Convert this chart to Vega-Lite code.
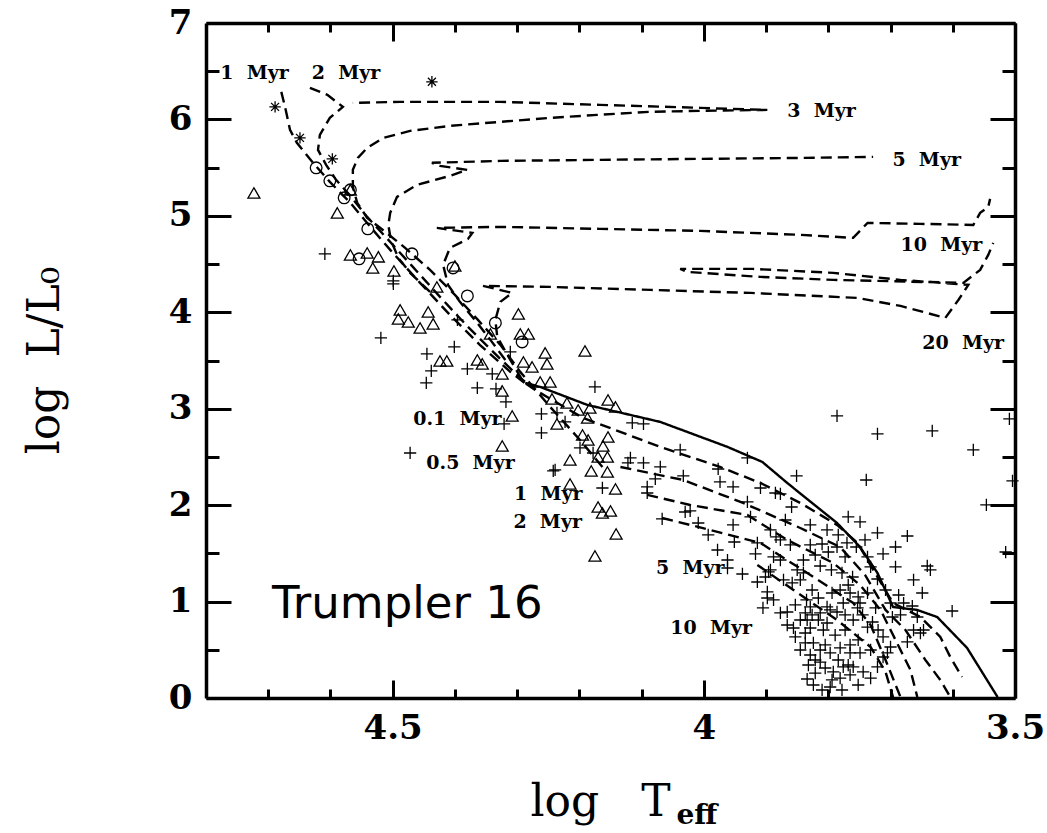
{
"$schema": "https://vega.github.io/schema/vega-lite/v6.json",
"width": 809, "height": 675,
"autosize": "none",
"padding": {"left": 206, "top": 23, "right": 32, "bottom": 135},
"background": "white",
"config": {"view": {"stroke": null},
  "axis": {"grid": false, "tickColor": "black", "tickWidth": 3, "domainColor": "black", "domainWidth": 3.5,
    "labelColor": "black", "labelFont": "DejaVu Serif", "labelFontWeight": "bold", "labelFontSize": 34,
    "labelFlush": false, "labelOverlap": false, "titleColor": "black", "titleFont": "DejaVu Serif", "titleFontWeight": "normal", "titleFontSize": 44}},
"datasets": {
"lines": [
{"s":"m1","o":1,"t":4.679,"l":6.286},{"s":"m1","o":2,"t":4.673,"l":6.130},{"s":"m1","o":3,"t":4.665,"l":5.892},{"s":"m1","o":4,"t":4.654,"l":5.757},{"s":"m1","o":5,"t":4.628,"l":5.550},{"s":"m1","o":6,"t":4.601,"l":5.352},{"s":"m1","o":7,"t":4.568,"l":5.135},{"s":"m1","o":8,"t":4.536,"l":4.886},{"s":"m1","o":9,"t":4.504,"l":4.647},{"s":"m1","o":10,"t":4.456,"l":4.305},{"s":"m1","o":11,"t":4.408,"l":3.973},{"s":"m1","o":12,"t":4.360,"l":3.662},{"s":"m1","o":13,"t":4.311,"l":3.382},{"s":"m1","o":14,"t":4.284,"l":3.247},
{"s":"m2","o":1,"t":4.633,"l":6.328},{"s":"m2","o":2,"t":4.605,"l":6.255},{"s":"m2","o":3,"t":4.580,"l":6.130},{"s":"m2","o":4,"t":4.601,"l":6.016},{"s":"m2","o":5,"t":4.617,"l":5.840},{"s":"m2","o":6,"t":4.620,"l":5.684},{"s":"m2","o":7,"t":4.607,"l":5.529},{"s":"m2","o":8,"t":4.591,"l":5.373},{"s":"m2","o":9,"t":4.568,"l":5.207},{"s":"m2","o":10,"t":4.541,"l":4.989},{"s":"m2","o":11,"t":4.507,"l":4.751},{"s":"m2","o":12,"t":4.469,"l":4.481},{"s":"m2","o":13,"t":4.424,"l":4.160},{"s":"m2","o":14,"t":4.379,"l":3.848},{"s":"m2","o":15,"t":4.332,"l":3.548},{"s":"m2","o":16,"t":4.295,"l":3.319},{"s":"m2","o":17,"t":4.279,"l":3.236},
{"s":"m3","o":1,"t":4.163,"l":2.396},{"s":"m3","o":2,"t":4.199,"l":2.676},{"s":"m3","o":3,"t":4.247,"l":3.019},{"s":"m3","o":4,"t":4.295,"l":3.382},{"s":"m3","o":5,"t":4.327,"l":3.662},{"s":"m3","o":6,"t":4.363,"l":3.921},{"s":"m3","o":7,"t":4.400,"l":4.180},{"s":"m3","o":8,"t":4.440,"l":4.440},{"s":"m3","o":9,"t":4.480,"l":4.668},{"s":"m3","o":10,"t":4.512,"l":4.834},{"s":"m3","o":11,"t":4.541,"l":4.979},{"s":"m3","o":12,"t":4.557,"l":5.135},{"s":"m3","o":13,"t":4.564,"l":5.301},{"s":"m3","o":14,"t":4.564,"l":5.477},{"s":"m3","o":15,"t":4.556,"l":5.601},{"s":"m3","o":16,"t":4.541,"l":5.705},{"s":"m3","o":17,"t":4.515,"l":5.809},{"s":"m3","o":18,"t":4.472,"l":5.881},{"s":"m3","o":19,"t":4.408,"l":5.933},{"s":"m3","o":20,"t":4.327,"l":5.975},{"s":"m3","o":21,"t":4.247,"l":6.016},{"s":"m3","o":22,"t":4.171,"l":6.047},{"s":"m3","o":23,"t":4.086,"l":6.079},{"s":"m3","o":24,"t":4.006,"l":6.089},{"s":"m3","o":25,"t":3.898,"l":6.099},{"s":"m3","o":26,"t":4.006,"l":6.120},{"s":"m3","o":27,"t":4.167,"l":6.151},{"s":"m3","o":28,"t":4.327,"l":6.182},{"s":"m3","o":29,"t":4.488,"l":6.182},{"s":"m3","o":30,"t":4.564,"l":6.172},
{"s":"m5","o":1,"t":4.440,"l":4.211},{"s":"m5","o":2,"t":4.472,"l":4.409},{"s":"m5","o":3,"t":4.491,"l":4.564},{"s":"m5","o":4,"t":4.503,"l":4.751},{"s":"m5","o":5,"t":4.507,"l":4.906},{"s":"m5","o":6,"t":4.504,"l":5.031},{"s":"m5","o":7,"t":4.493,"l":5.197},{"s":"m5","o":8,"t":4.461,"l":5.321},{"s":"m5","o":9,"t":4.408,"l":5.415},{"s":"m5","o":10,"t":4.380,"l":5.477},{"s":"m5","o":11,"t":4.424,"l":5.518},{"s":"m5","o":12,"t":4.437,"l":5.550},{"s":"m5","o":13,"t":4.327,"l":5.570},{"s":"m5","o":14,"t":4.167,"l":5.581},{"s":"m5","o":15,"t":4.006,"l":5.591},{"s":"m5","o":16,"t":3.845,"l":5.601},{"s":"m5","o":17,"t":3.728,"l":5.612},
{"s":"m10","o":1,"t":4.319,"l":3.506},{"s":"m10","o":2,"t":4.343,"l":3.714},{"s":"m10","o":3,"t":4.368,"l":3.921},{"s":"m10","o":4,"t":4.392,"l":4.108},{"s":"m10","o":5,"t":4.411,"l":4.284},{"s":"m10","o":6,"t":4.419,"l":4.492},{"s":"m10","o":7,"t":4.408,"l":4.668},{"s":"m10","o":8,"t":4.379,"l":4.761},{"s":"m10","o":9,"t":4.372,"l":4.823},{"s":"m10","o":10,"t":4.429,"l":4.875},{"s":"m10","o":11,"t":4.327,"l":4.886},{"s":"m10","o":12,"t":4.167,"l":4.865},{"s":"m10","o":13,"t":4.006,"l":4.844},{"s":"m10","o":14,"t":3.845,"l":4.803},{"s":"m10","o":15,"t":3.760,"l":4.772},{"s":"m10","o":16,"t":3.737,"l":4.927},{"s":"m10","o":17,"t":3.652,"l":4.917},{"s":"m10","o":18,"t":3.567,"l":4.906},{"s":"m10","o":19,"t":3.556,"l":5.031},{"s":"m10","o":20,"t":3.543,"l":5.093},{"s":"m10","o":21,"t":3.540,"l":5.176},
{"s":"m20","o":1,"t":4.271,"l":3.195},{"s":"m20","o":2,"t":4.290,"l":3.278},{"s":"m20","o":3,"t":4.311,"l":3.506},{"s":"m20","o":4,"t":4.332,"l":3.745},{"s":"m20","o":5,"t":4.335,"l":3.921},{"s":"m20","o":6,"t":4.327,"l":4.108},{"s":"m20","o":7,"t":4.308,"l":4.201},{"s":"m20","o":8,"t":4.355,"l":4.274},{"s":"m20","o":9,"t":4.247,"l":4.263},{"s":"m20","o":10,"t":4.086,"l":4.232},{"s":"m20","o":11,"t":3.925,"l":4.201},{"s":"m20","o":12,"t":3.753,"l":4.149},{"s":"m20","o":13,"t":3.684,"l":4.066},{"s":"m20","o":14,"t":3.612,"l":3.942},{"s":"m20","o":15,"t":3.591,"l":4.128},{"s":"m20","o":16,"t":3.575,"l":4.284},{"s":"m20","o":17,"t":3.684,"l":4.336},{"s":"m20","o":18,"t":3.792,"l":4.409},{"s":"m20","o":19,"t":3.921,"l":4.450},{"s":"m20","o":20,"t":4.038,"l":4.450},{"s":"m20","o":21,"t":4.027,"l":4.419},{"s":"m20","o":22,"t":3.909,"l":4.367},{"s":"m20","o":23,"t":3.792,"l":4.336},{"s":"m20","o":24,"t":3.583,"l":4.305},{"s":"m20","o":25,"t":3.556,"l":4.440},{"s":"m20","o":26,"t":3.543,"l":4.595},{"s":"m20","o":27,"t":3.535,"l":4.720},
{"s":"p01","o":1,"t":4.287,"l":3.267},{"s":"p01","o":2,"t":4.263,"l":3.226},{"s":"p01","o":3,"t":4.187,"l":3.039},{"s":"p01","o":4,"t":4.070,"l":2.863},{"s":"p01","o":5,"t":3.962,"l":2.604},{"s":"p01","o":6,"t":3.906,"l":2.448},{"s":"p01","o":7,"t":3.866,"l":2.230},{"s":"p01","o":8,"t":3.786,"l":1.815},{"s":"p01","o":9,"t":3.749,"l":1.566},{"s":"p01","o":10,"t":3.721,"l":1.297},{"s":"p01","o":11,"t":3.696,"l":0.944},{"s":"p01","o":12,"t":3.657,"l":0.913},{"s":"p01","o":13,"t":3.625,"l":0.840},{"s":"p01","o":14,"t":3.577,"l":0.519},{"s":"p01","o":15,"t":3.528,"l":0.010},
{"s":"p05","o":1,"t":4.263,"l":3.164},{"s":"p05","o":2,"t":4.194,"l":2.904},{"s":"p05","o":3,"t":4.070,"l":2.604},{"s":"p05","o":4,"t":3.974,"l":2.396},{"s":"p05","o":5,"t":3.909,"l":2.230},{"s":"p05","o":6,"t":3.845,"l":2.023},{"s":"p05","o":7,"t":3.786,"l":1.795},{"s":"p05","o":8,"t":3.753,"l":1.608},{"s":"p05","o":9,"t":3.721,"l":1.255},{"s":"p05","o":10,"t":3.696,"l":0.985},{"s":"p05","o":11,"t":3.652,"l":0.840},{"s":"p05","o":12,"t":3.620,"l":0.633},{"s":"p05","o":13,"t":3.604,"l":0.425},{"s":"p05","o":14,"t":3.585,"l":0.218},
{"s":"p1","o":1,"t":4.134,"l":2.396},{"s":"p1","o":2,"t":4.033,"l":2.261},{"s":"p1","o":3,"t":3.937,"l":2.023},{"s":"p1","o":4,"t":3.845,"l":1.763},{"s":"p1","o":5,"t":3.781,"l":1.566},{"s":"p1","o":6,"t":3.741,"l":1.276},{"s":"p1","o":7,"t":3.708,"l":0.913},{"s":"p1","o":8,"t":3.676,"l":0.705},{"s":"p1","o":9,"t":3.644,"l":0.394},{"s":"p1","o":10,"t":3.620,"l":0.187},{"s":"p1","o":11,"t":3.604,"l":0.010},
{"s":"p2","o":1,"t":4.091,"l":2.106},{"s":"p2","o":2,"t":4.022,"l":2.002},{"s":"p2","o":3,"t":3.930,"l":1.898},{"s":"p2","o":4,"t":3.866,"l":1.639},{"s":"p2","o":5,"t":3.792,"l":1.400},{"s":"p2","o":6,"t":3.749,"l":1.172},{"s":"p2","o":7,"t":3.716,"l":0.913},{"s":"p2","o":8,"t":3.692,"l":0.602},{"s":"p2","o":9,"t":3.668,"l":0.290},{"s":"p2","o":10,"t":3.657,"l":0.010},
{"s":"p5","o":1,"t":4.067,"l":1.867},{"s":"p5","o":2,"t":3.990,"l":1.743},{"s":"p5","o":3,"t":3.909,"l":1.608},{"s":"p5","o":4,"t":3.824,"l":1.255},{"s":"p5","o":5,"t":3.760,"l":0.985},{"s":"p5","o":6,"t":3.732,"l":0.757},{"s":"p5","o":7,"t":3.708,"l":0.394},{"s":"p5","o":8,"t":3.684,"l":0.010},
{"s":"p10","o":1,"t":3.914,"l":1.380},{"s":"p10","o":2,"t":3.856,"l":1.120},{"s":"p10","o":3,"t":3.786,"l":0.809},{"s":"p10","o":4,"t":3.732,"l":0.529},{"s":"p10","o":5,"t":3.708,"l":0.270},{"s":"p10","o":6,"t":3.696,"l":0.010}
],
"pts": [
{"k":"s","t":4.689,"l":6.130},{"k":"s","t":4.649,"l":5.809},{"k":"s","t":4.597,"l":5.591},{"k":"s","t":4.437,"l":6.390},
{"k":"c","t":4.623,"l":5.498},{"k":"c","t":4.601,"l":5.363},{"k":"c","t":4.578,"l":5.187},{"k":"c","t":4.568,"l":5.270},{"k":"c","t":4.540,"l":4.865},{"k":"c","t":4.554,"l":4.554},{"k":"c","t":4.469,"l":4.606},{"k":"c","t":4.403,"l":4.460},{"k":"c","t":4.380,"l":4.170},{"k":"c","t":4.335,"l":3.890},{"k":"c","t":4.292,"l":3.693},
{"k":"t","t":4.723,"l":5.238},{"k":"t","t":4.589,"l":5.031},{"k":"t","t":4.568,"l":5.270},{"k":"t","t":4.568,"l":4.595},{"k":"t","t":4.541,"l":4.616},{"k":"t","t":4.523,"l":4.575},{"k":"t","t":4.532,"l":4.460},{"k":"t","t":4.498,"l":4.429},{"k":"t","t":4.429,"l":4.263},{"k":"t","t":4.400,"l":4.481},{"k":"t","t":4.488,"l":4.025},{"k":"t","t":4.491,"l":3.931},{"k":"t","t":4.475,"l":3.900},{"k":"t","t":4.456,"l":3.838},{"k":"t","t":4.435,"l":3.880},{"k":"t","t":4.443,"l":4.004},{"k":"t","t":4.298,"l":3.983},{"k":"t","t":4.343,"l":3.776},{"k":"t","t":4.295,"l":3.776},{"k":"t","t":4.282,"l":3.776},{"k":"t","t":4.191,"l":3.599},{"k":"t","t":4.255,"l":3.579},{"k":"t","t":4.252,"l":3.465},{"k":"t","t":4.290,"l":3.485},{"k":"t","t":4.276,"l":3.434},{"k":"t","t":4.424,"l":3.496},{"k":"t","t":4.413,"l":3.496},{"k":"t","t":4.364,"l":3.506},{"k":"t","t":4.356,"l":3.465},{"k":"t","t":4.324,"l":3.361},{"k":"t","t":4.324,"l":3.185},{"k":"t","t":4.263,"l":3.278},{"k":"t","t":4.247,"l":3.278},{"k":"t","t":4.244,"l":3.102},{"k":"t","t":4.220,"l":3.060},{"k":"t","t":4.202,"l":2.987},{"k":"t","t":4.183,"l":3.008},{"k":"t","t":4.154,"l":3.091},{"k":"t","t":4.142,"l":3.019},{"k":"t","t":4.308,"l":2.925},{"k":"t","t":4.236,"l":2.842},{"k":"t","t":4.187,"l":2.904},{"k":"t","t":4.324,"l":2.614},{"k":"t","t":4.195,"l":2.728},{"k":"t","t":4.186,"l":2.676},{"k":"t","t":4.154,"l":2.707},{"k":"t","t":4.162,"l":2.614},{"k":"t","t":4.215,"l":2.469},{"k":"t","t":4.170,"l":2.500},{"k":"t","t":4.155,"l":2.500},{"k":"t","t":4.181,"l":2.355},{"k":"t","t":4.155,"l":2.344},{"k":"t","t":4.215,"l":2.220},{"k":"t","t":4.142,"l":2.168},{"k":"t","t":4.170,"l":1.981},{"k":"t","t":4.150,"l":1.940},{"k":"t","t":4.163,"l":1.919},{"k":"t","t":4.141,"l":1.701},{"k":"t","t":4.175,"l":1.473},
{"k":"p","t":4.609,"l":4.606},{"k":"p","t":4.499,"l":4.326},{"k":"p","t":4.499,"l":4.295},{"k":"p","t":4.519,"l":3.734},{"k":"p","t":4.445,"l":3.568},{"k":"p","t":4.438,"l":3.392},{"k":"p","t":4.446,"l":3.267},{"k":"p","t":4.401,"l":3.641},{"k":"p","t":4.380,"l":3.413},{"k":"p","t":4.364,"l":3.216},{"k":"p","t":4.340,"l":3.361},{"k":"p","t":4.334,"l":3.205},{"k":"p","t":4.318,"l":3.070},{"k":"p","t":4.321,"l":2.842},{"k":"p","t":4.311,"l":3.589},{"k":"p","t":4.261,"l":2.749},{"k":"p","t":4.261,"l":2.946},{"k":"p","t":4.472,"l":2.541},{"k":"p","t":4.242,"l":2.355},{"k":"p","t":4.175,"l":3.226},{"k":"p","t":4.236,"l":2.956},{"k":"p","t":4.223,"l":2.863},{"k":"p","t":4.199,"l":2.593},{"k":"p","t":4.178,"l":2.541},{"k":"p","t":4.163,"l":2.178},{"k":"p","t":4.115,"l":2.853},{"k":"p","t":4.097,"l":2.842},{"k":"p","t":4.122,"l":2.438},{"k":"p","t":4.097,"l":2.438},{"k":"p","t":4.070,"l":2.396},{"k":"p","t":4.078,"l":2.272},{"k":"p","t":4.033,"l":2.303},{"k":"p","t":4.091,"l":2.189},{"k":"p","t":4.091,"l":2.126},{"k":"p","t":4.038,"l":2.573},{"k":"p","t":3.977,"l":2.375},{"k":"p","t":3.974,"l":2.241},{"k":"p","t":4.022,"l":1.940},{"k":"p","t":4.067,"l":1.857},{"k":"p","t":4.009,"l":1.815},{"k":"p","t":3.993,"l":1.691},{"k":"p","t":3.978,"l":1.535},{"k":"p","t":3.962,"l":1.431},{"k":"p","t":3.786,"l":2.925},{"k":"p","t":3.721,"l":2.739},{"k":"p","t":3.633,"l":2.770},{"k":"p","t":3.567,"l":2.573},{"k":"p","t":3.509,"l":2.894},{"k":"p","t":3.739,"l":2.261},{"k":"p","t":3.546,"l":2.002},{"k":"p","t":3.515,"l":1.514},{"k":"p","t":3.504,"l":2.251},{"k":"p","t":3.930,"l":2.490},{"k":"p","t":3.953,"l":2.189},{"k":"p","t":3.909,"l":2.178},{"k":"p","t":3.877,"l":2.116},{"k":"p","t":3.851,"l":2.303},{"k":"p","t":3.859,"l":1.981},{"k":"p","t":3.930,"l":2.033},{"k":"p","t":4.030,"l":1.929},{"k":"p","t":3.953,"l":1.795},{"k":"p","t":3.951,"l":1.618},{"k":"p","t":3.925,"l":1.878},{"k":"p","t":3.914,"l":1.608},{"k":"p","t":3.917,"l":1.494},{"k":"p","t":3.962,"l":1.348},{"k":"p","t":3.938,"l":1.286},{"k":"p","t":3.884,"l":1.670},{"k":"p","t":3.768,"l":1.878},{"k":"p","t":3.749,"l":1.826},{"k":"p","t":3.721,"l":1.712},{"k":"p","t":3.673,"l":1.680},{"k":"p","t":3.692,"l":1.566},{"k":"p","t":3.712,"l":1.494},{"k":"p","t":3.692,"l":1.359},{"k":"p","t":3.641,"l":1.369},{"k":"p","t":3.636,"l":1.328},{"k":"p","t":3.663,"l":1.224},{"k":"p","t":3.649,"l":1.089},{"k":"p","t":3.601,"l":0.902},{"k":"p","t":3.885,"l":2.126},{"k":"p","t":3.737,"l":1.463},{"k":"p","t":3.732,"l":1.359},{"k":"p","t":3.755,"l":1.566},{"k":"p","t":3.773,"l":1.463},{"k":"p","t":3.786,"l":1.566},{"k":"p","t":3.802,"l":1.743},{"k":"p","t":3.829,"l":1.587},{"k":"p","t":3.810,"l":1.597},{"k":"p","t":3.770,"l":1.608},{"k":"p","t":3.813,"l":1.369},{"k":"p","t":3.795,"l":1.328},{"k":"p","t":3.778,"l":1.297},{"k":"p","t":3.761,"l":1.255},{"k":"p","t":3.721,"l":1.234},{"k":"p","t":3.850,"l":1.328},{"k":"p","t":3.840,"l":1.297},{"k":"p","t":3.877,"l":1.431},{"k":"p","t":3.888,"l":1.463},{"k":"p","t":3.893,"l":1.328},{"k":"p","t":3.901,"l":1.255},{"k":"p","t":3.872,"l":1.224},{"k":"p","t":3.845,"l":1.224},{"k":"p","t":3.858,"l":1.193},{"k":"p","t":3.826,"l":1.120},{"k":"p","t":3.794,"l":1.089},{"k":"p","t":3.765,"l":1.089},{"k":"p","t":3.752,"l":1.048},{"k":"p","t":3.737,"l":1.089},{"k":"p","t":3.776,"l":0.985},{"k":"p","t":3.749,"l":0.985},{"k":"p","t":3.724,"l":0.934},{"k":"p","t":3.700,"l":0.985},{"k":"p","t":3.679,"l":0.985},{"k":"p","t":3.665,"l":0.954},{"k":"p","t":3.684,"l":0.861},{"k":"p","t":3.697,"l":0.840},{"k":"p","t":3.657,"l":0.840},{"k":"p","t":3.652,"l":0.674},{"k":"p","t":3.673,"l":0.581},{"k":"p","t":3.712,"l":0.633},{"k":"p","t":3.737,"l":0.736},{"k":"p","t":3.729,"l":0.788},{"k":"p","t":3.760,"l":0.809},{"k":"p","t":3.753,"l":0.934},{"k":"p","t":3.773,"l":0.861},{"k":"p","t":3.786,"l":0.892},{"k":"p","t":3.802,"l":0.944},{"k":"p","t":3.813,"l":0.882},{"k":"p","t":3.829,"l":0.944},{"k":"p","t":3.837,"l":0.882},{"k":"p","t":3.834,"l":0.809},{"k":"p","t":3.816,"l":0.809},{"k":"p","t":3.802,"l":0.778},{"k":"p","t":3.829,"l":0.726},{"k":"p","t":3.837,"l":0.674},{"k":"p","t":3.866,"l":0.757},{"k":"p","t":3.877,"l":0.882},{"k":"p","t":3.888,"l":1.017},{"k":"p","t":3.898,"l":1.037},{"k":"p","t":3.905,"l":0.934},{"k":"p","t":3.898,"l":1.100},{"k":"p","t":3.853,"l":0.633},{"k":"p","t":3.824,"l":0.571},{"k":"p","t":3.805,"l":0.550},{"k":"p","t":3.797,"l":0.467},{"k":"p","t":3.829,"l":0.446},{"k":"p","t":3.832,"l":0.342},{"k":"p","t":3.821,"l":0.259},{"k":"p","t":3.834,"l":0.197},{"k":"p","t":3.824,"l":0.135},{"k":"p","t":3.794,"l":0.187},{"k":"p","t":3.781,"l":0.207},{"k":"p","t":3.776,"l":0.322},{"k":"p","t":3.768,"l":0.342},{"k":"p","t":3.784,"l":0.394},{"k":"p","t":3.765,"l":0.467},{"k":"p","t":3.749,"l":0.467},{"k":"p","t":3.732,"l":0.498},{"k":"p","t":3.705,"l":0.467},{"k":"p","t":3.721,"l":0.322},{"k":"p","t":3.744,"l":0.270},{"k":"p","t":3.732,"l":0.207},{"k":"p","t":3.813,"l":0.373},{"k":"p","t":3.792,"l":0.270},{"k":"p","t":3.914,"l":1.203},{"k":"p","t":3.896,"l":1.307},{"k":"p","t":3.760,"l":0.322},{"k":"p","t":3.712,"l":0.425},{"k":"p","t":3.700,"l":0.529},{"k":"p","t":3.663,"l":0.705},{"k":"p","t":3.647,"l":0.705},{"k":"p","t":3.797,"l":0.114},{"k":"p","t":4.118,"l":2.490},{"k":"p","t":4.239,"l":2.365},{"k":"p","t":4.396,"l":3.921},
{"k":"p","t":3.840,"l":1.431},{"k":"p","t":3.821,"l":1.483},{"k":"p","t":3.800,"l":1.514},{"k":"p","t":3.781,"l":1.120},{"k":"p","t":3.768,"l":1.172},{"k":"p","t":3.816,"l":1.037},{"k":"p","t":3.835,"l":1.017},{"k":"p","t":3.853,"l":0.965},{"k":"p","t":3.866,"l":0.892},{"k":"p","t":3.845,"l":0.809},{"k":"p","t":3.826,"l":0.861},{"k":"p","t":3.808,"l":0.705},{"k":"p","t":3.789,"l":0.653},{"k":"p","t":3.773,"l":0.705},{"k":"p","t":3.752,"l":0.602},{"k":"p","t":3.765,"l":0.550},{"k":"p","t":3.781,"l":0.519},{"k":"p","t":3.813,"l":0.498},{"k":"p","t":3.845,"l":0.498},{"k":"p","t":3.821,"l":0.394},{"k":"p","t":3.805,"l":0.311},{"k":"p","t":3.765,"l":0.239},{"k":"p","t":3.752,"l":0.135},{"k":"p","t":3.810,"l":0.083},{"k":"p","t":3.778,"l":0.083},{"k":"p","t":3.877,"l":1.639},{"k":"p","t":3.861,"l":1.587},{"k":"p","t":3.893,"l":1.743},{"k":"p","t":3.869,"l":1.846},{"k":"p","t":3.829,"l":1.795},{"k":"p","t":3.784,"l":1.691},{"k":"p","t":3.741,"l":1.639},{"k":"p","t":3.708,"l":1.120},{"k":"p","t":3.687,"l":1.068},{"k":"p","t":3.797,"l":0.913},{"k":"p","t":3.745,"l":0.861},{"k":"p","t":3.720,"l":0.705},{"k":"p","t":3.856,"l":0.726},{"k":"p","t":3.837,"l":0.571}
],
"labels": [
{"t":4.777,"l":6.483,"txt":"1\u00a0\u00a0Myr"},{"t":4.630,"l":6.483,"txt":"2\u00a0\u00a0Myr"},{"t":3.866,"l":6.089,"txt":"3\u00a0\u00a0Myr"},{"t":3.697,"l":5.581,"txt":"5\u00a0\u00a0Myr"},{"t":3.684,"l":4.699,"txt":"10\u00a0\u00a0Myr"},{"t":3.649,"l":3.682,"txt":"20\u00a0\u00a0Myr"},
{"t":4.467,"l":2.894,"txt":"0.1\u00a0\u00a0Myr"},{"t":4.446,"l":2.438,"txt":"0.5\u00a0\u00a0Myr"},{"t":4.305,"l":2.116,"txt":"1\u00a0\u00a0Myr"},{"t":4.306,"l":1.826,"txt":"2\u00a0\u00a0Myr"},{"t":4.077,"l":1.349,"txt":"5\u00a0\u00a0Myr"},{"t":4.054,"l":0.726,"txt":"10\u00a0\u00a0Myr"}
],
"names": [{"t":4.694,"l":0.975,"txt":"Trumpler 16"}],
"sub": [{"t":4.044,"l":-1.307,"txt":"eff"}]
},
"layer": [
{
 "data": {"name": "lines"},
 "mark": {"type": "line", "color": "black", "strokeWidth": 2.4},
 "encoding": {
  "x": {"field": "t", "type": "quantitative", "scale": {"domain": [3.5, 4.8], "reverse": true, "nice": false, "zero": false},
        "axis": {"orient": "bottom", "values": [3.5, 4, 4.5], "format": "~g", "tickSize": -18, "labelPadding": 31, "domain": true,
                 "title": "log\u00a0\u00a0\u00a0T", "titleX": 394, "titleY": 117, "titleBaseline": "alphabetic", "titleAlign": "center", "titleAnchor": null}},
  "y": {"field": "l", "type": "quantitative", "scale": {"domain": [0, 7], "nice": false, "zero": false},
        "axis": {"orient": "left", "values": [0, 1, 2, 3, 4, 5, 6, 7], "format": "~g", "tickSize": -25, "labelPadding": 39, "domain": true,
                 "title": "log\u00a0\u00a0L/L₀", "titleX": -161, "titleY": 337, "titleAngle": -90, "titleBaseline": "middle", "titleAlign": "center", "titleAnchor": null}},
  "detail": {"field": "s"},
  "order": {"field": "o", "type": "quantitative"},
  "strokeDash": {"condition": {"test": "datum.s === 'p01'", "value": [1, 0]}, "value": [11, 6]}
 }
},
{
 "data": {"name": "pts"},
 "mark": {"type": "point", "filled": false, "color": "black", "strokeWidth": 1.3, "opacity": 1},
 "encoding": {
  "x": {"field": "t", "type": "quantitative", "axis": {"orient": "bottom", "values": [3.6, 3.7, 3.8, 3.9, 4.1, 4.2, 4.3, 4.4, 4.6, 4.7], "tickSize": -9, "labels": false, "domain": false, "title": null}},
  "y": {"field": "l", "type": "quantitative", "axis": {"orient": "left", "values": [0.5, 1.5, 2.5, 3.5, 4.5, 5.5, 6.5], "tickSize": -13, "labels": false, "domain": false, "title": null}},
  "shape": {"field": "k", "type": "nominal", "legend": null,
    "scale": {"domain": ["p", "t", "c", "s"], "range": ["M-1,0H1M0,-1V1", "triangle-up", "circle", "M-1,0H1M0,-1V1M-0.7,-0.7L0.7,0.7M-0.7,0.7L0.7,-0.7"]}},
  "size": {"field": "k", "type": "nominal", "legend": null, "scale": {"domain": ["p", "t", "c", "s"], "range": [150, 130, 120, 160]}}
 }
},
{
 "data": {"name": "labels"},
 "mark": {"type": "text", "font": "DejaVu Serif", "fontWeight": "bold", "fontSize": 19, "align": "left", "baseline": "middle", "color": "black"},
 "encoding": {
  "x": {"field": "t", "type": "quantitative", "axis": {"orient": "top", "values": [3.5, 4, 4.5], "tickSize": -18, "labels": false, "domain": true, "title": null}},
  "y": {"field": "l", "type": "quantitative", "axis": {"orient": "right", "values": [0, 1, 2, 3, 4, 5, 6, 7], "tickSize": -25, "labels": false, "domain": true, "title": null}},
  "text": {"field": "txt"}
 }
},
{
 "data": {"name": "names"},
 "mark": {"type": "text", "font": "DejaVu Sans", "fontSize": 45, "align": "left", "baseline": "middle", "color": "black"},
 "encoding": {
  "x": {"field": "t", "type": "quantitative", "axis": {"orient": "top", "values": [3.6, 3.7, 3.8, 3.9, 4.1, 4.2, 4.3, 4.4, 4.6, 4.7], "tickSize": -9, "labels": false, "domain": false, "title": null}},
  "y": {"field": "l", "type": "quantitative", "axis": {"orient": "right", "values": [0.5, 1.5, 2.5, 3.5, 4.5, 5.5, 6.5], "tickSize": -13, "labels": false, "domain": false, "title": null}},
  "text": {"field": "txt"}
 }
},
{
 "data": {"name": "sub"},
 "mark": {"type": "text", "font": "DejaVu Serif", "fontWeight": "bold", "fontSize": 28, "align": "left", "baseline": "alphabetic", "color": "black"},
 "encoding": {
  "x": {"field": "t", "type": "quantitative", "axis": null},
  "y": {"field": "l", "type": "quantitative", "axis": null},
  "text": {"field": "txt"}
 }
}
],
"resolve": {"axis": {"x": "independent", "y": "independent"}}
}
